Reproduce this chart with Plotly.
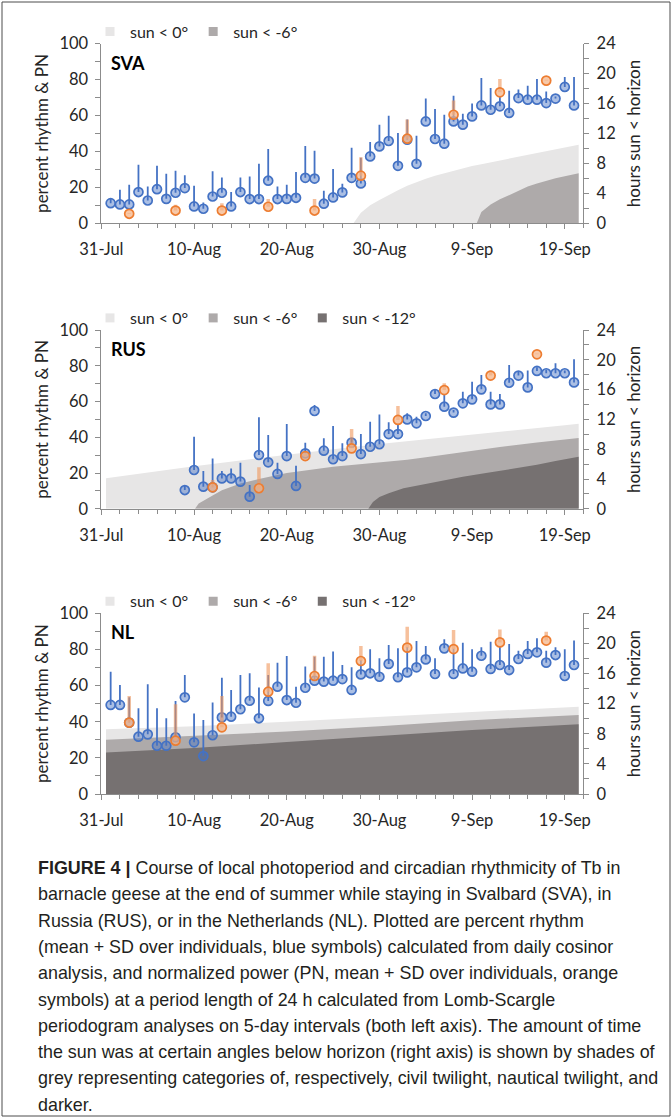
import pandas as pd
import plotly.graph_objects as go

# ---------------------------------------------------------------- data
START = pd.Timestamp("2018-07-31")
obs_dates = pd.date_range("2018-08-01", "2018-09-20", freq="D")   # daily cosinor
pn_dates_sva = ["2018-08-03", "2018-08-08", "2018-08-13", "2018-08-18", "2018-08-23",
                "2018-08-28", "2018-09-02", "2018-09-07", "2018-09-12", "2018-09-17"]
pn_dates_rus = ["2018-08-12", "2018-08-17", "2018-08-22", "2018-08-27",
                "2018-09-01", "2018-09-06", "2018-09-11", "2018-09-16"]
pn_dates_nl = pn_dates_sva

# percent rhythm (mean) and SD, Svalbard
sva_rhythm = [11.2, 10.5, 10.5, 17.4, 12.7, 19.0, 13.6, 17.0, 19.6, 9.4,
              8.1, 14.9, 17.0, 9.4, 17.4, 13.5, 13.5, 23.7, 13.5, 13.6,
              14.2, 25.3, 24.9, 10.9, 14.4, 17.2, 25.3, 22.2, 37.2, 42.8,
              45.8, 32.0, 46.5, 33.1, 56.7, 46.9, 44.3, 56.7, 54.9, 59.5,
              65.6, 63.2, 65.1, 61.4, 69.7, 68.8, 68.8, 66.9, 69.4, 75.9,
              65.6]
sva_rhythm_sd = [2.8, 8.2, 10.9, 15.2, 7.8, 13.0, 14.0, 12.2, 7.2, 11.5,
                 3.5, 14.0, 8.5, 8.0, 8.1, 12.6, 19.6, 17.6, 7.0, 7.8,
                 14.3, 17.7, 15.5, 7.2, 15.8, 4.8, 16.8, 14.3, 8.0, 12.1,
                 14.1, 18.2, 11.2, 15.6, 12.7, 16.7, 16.1, 14.3, 6.1, 7.1,
                 15.3, 12.1, 5.4, 12.4, 4.7, 7.8, 11.5, 6.5, 1.1, 5.5,
                 15.8]
sva_pn = [5.3, 7.1, 7.1, 9.2, 7.1, 26.5, 47.1, 60.4, 72.9, 79.4]
sva_pn_sd = [0.5, 3.2, 4.1, 4.3, 6.4, 10.2, 10.6, 8.0, 7.4, 0.5]

# Russia (loggers start on 9 Aug)
rus_rhythm = [None, None, None, None, None, None, None, None, 10.5, 21.7,
              12.4, 12.0, 17.0, 17.0, 15.2, 6.8, 30.1, 26.0, 19.5, 29.5,
              12.8, 31.0, 54.7, 32.5, 27.7, 29.5, 37.0, 30.6, 34.7, 36.1,
              41.8, 41.8, 50.0, 47.8, 51.9, 64.2, 57.1, 53.8, 59.0, 61.2,
              66.8, 58.4, 58.4, 70.5, 74.5, 67.9, 77.1, 75.8, 75.8, 75.8,
              70.7]
rus_rhythm_sd = [0, 0, 0, 0, 0, 0, 0, 0, 2.2, 18.6,
                 8.7, 16.2, 4.1, 5.6, 10.6, 6.5, 21.1, 15.3, 6.3, 17.9,
                 11.3, 6.0, 3.4, 6.9, 18.6, 7.1, 2.4, 11.2, 14.0, 16.7,
                 6.6, 5.1, 3.4, 3.7, 1.5, 2.6, 6.5, 1.5, 6.5, 9.9,
                 8.0, 7.1, 5.8, 9.9, 2.2, 9.4, 2.0, 2.0, 5.6, 1.5,
                 12.9]
rus_pn = [12.0, 11.5, 29.5, 33.8, 49.7, 66.4, 74.5, 86.4]
rus_pn_sd = [4.1, 11.7, 1.0, 10.8, 7.8, 3.8, 2.8, 0.5]

# Netherlands
nl_rhythm = [49.3, 49.3, 39.5, 31.7, 33.0, 26.7, 26.7, 31.4, 53.5, 28.6,
             21.0, 32.5, 42.4, 42.8, 46.9, 51.6, 41.9, 51.5, 59.4, 52.0,
             50.5, 58.8, 62.7, 62.2, 62.7, 63.6, 57.6, 66.2, 66.8, 64.9,
             72.0, 64.6, 67.3, 70.1, 74.5, 66.4, 80.6, 66.4, 69.5, 67.7,
             76.5, 69.2, 71.4, 68.6, 74.7, 77.5, 78.4, 72.7, 76.9, 65.3,
             71.4]
nl_rhythm_sd = [18.4, 11.0, 14.0, 15.7, 27.7, 20.7, 15.2, 20.1, 12.4, 16.0,
                20.0, 18.2, 22.0, 14.8, 19.0, 15.2, 17.1, 14.4, 13.3, 24.4,
                8.9, 11.7, 13.3, 13.8, 16.1, 7.8, 12.5, 8.0, 13.3, 10.2,
                10.5, 16.0, 14.0, 14.6, 7.4, 8.7, 5.0, 14.0, 14.2, 12.4,
                4.7, 15.1, 10.0, 14.4, 4.6, 7.2, 7.8, 6.6, 4.3, 14.8,
                13.5]
nl_pn = [39.5, 29.5, 36.9, 56.6, 65.3, 73.6, 81.0, 80.2, 83.9, 84.9]
nl_pn_sd = [14.7, 20.1, 17.3, 15.7, 11.2, 8.3, 11.6, 10.6, 7.2, 4.9]

# hours with the sun below a given angle (day offsets from 31 Jul)
sva_sun0_day = [0.5, 27.2, 28, 29, 30, 31, 32, 33, 34, 35, 36, 37, 38, 39, 40,
                41, 42, 43, 44, 45, 46, 47, 48, 49, 50, 51, 51.5]
sva_sun0_h = [0, 0, 1.4, 2.4, 3.1, 3.8, 4.4, 5.0, 5.5, 5.95, 6.35, 6.7, 7.0, 7.35, 7.65,
              7.9, 8.15, 8.4, 8.65, 8.9, 9.1, 9.35, 9.6, 9.85, 10.1, 10.35, 10.5]
sva_sun6_day = [0.5, 40.5, 41, 42, 43, 44, 45, 46, 47, 48, 49, 50, 51, 51.5]
sva_sun6_h = [0, 0, 1.5, 2.5, 3.2, 3.8, 4.4, 4.9, 5.3, 5.7, 6.0, 6.3, 6.6, 6.7]

rus_sun0_day = [0.5, 5, 10, 15, 20, 25, 30, 35, 40, 45, 50, 51.5]
rus_sun0_h = [4.1, 4.9, 5.7, 6.5, 7.3, 8.0, 8.7, 9.3, 9.9, 10.55, 11.2, 11.4]
rus_sun6_day = [0.5, 10.1, 10.5, 11, 12, 13, 14, 15, 17, 20, 25, 29, 33, 36, 40, 43, 47, 51.5]
rus_sun6_h = [0, 0, 0.7, 1.1, 1.8, 2.5, 3.0, 3.4, 4.0, 4.8, 5.65, 6.1, 6.6, 7.1, 7.8, 8.3, 8.9, 9.5]
rus_sun12_day = [0.5, 28.8, 29.3, 30, 31, 32.6, 34, 36, 39, 41.5, 44, 47, 49, 51.5]
rus_sun12_h = [0, 0, 0.9, 1.6, 2.1, 2.75, 3.1, 3.6, 4.3, 4.8, 5.3, 5.9, 6.4, 7.0]

nl_sun_day = [0.5, 10, 20, 30, 40, 51.5]
nl_sun0_h = [8.6, 9.0, 9.6, 10.3, 10.9, 11.6]
nl_sun6_h = [7.2, 7.7, 8.3, 9.0, 9.8, 10.5]
nl_sun12_h = [5.5, 6.1, 6.9, 7.7, 8.5, 9.25]

sun_labels = ["sun < 0°", "sun < -6°", "sun < -12°"]
panel_names = ["SVA", "RUS", "NL"]
x_range = ["2018-07-31", "2018-09-21"]

caption_lines = [
    "<b>FIGURE 4 |</b> Course of local photoperiod and circadian rhythmicity of Tb in",
    "barnacle geese at the end of summer while staying in Svalbard (SVA), in",
    "Russia (RUS), or in the Netherlands (NL). Plotted are percent rhythm",
    "(mean + SD over individuals, blue symbols) calculated from daily cosinor",
    "analysis, and normalized power (PN, mean + SD over individuals, orange",
    "symbols) at a period length of 24 h calculated from Lomb-Scargle",
    "periodogram analyses on 5-day intervals (both left axis). The amount of time",
    "the sun was at certain angles below horizon (right axis) is shown by shades of",
    "grey representing categories of, respectively, civil twilight, nautical twilight, and",
    "darker.",
]

# ---------------------------------------------------------------- styling
W, H = 672, 1118
FONT = "Lato, 'Open Sans', sans-serif"
CAPTION_FONT = "'Liberation Sans', Arial, sans-serif"
SUN_COLORS = ["#E7E6E6", "#AEAAAA", "#767171"]
BLUE = "#4472C4"
ORANGE = "#ED7D31"
AXIS = "#8C8C8C"
TXT = "#262626"
PLOT_X = (101.4, 583.3)
PLOT_Y = [(43.6, 223.3), (330.0, 508.8), (613.3, 794.0)]


def days_to_dates(days):
    return [START + pd.Timedelta(days=d) for d in days]


panels = [
    dict(rhythm=sva_rhythm, rhythm_sd=sva_rhythm_sd, pn=sva_pn, pn_sd=sva_pn_sd,
         pn_dates=pn_dates_sva,
         sun=[(sva_sun0_day, sva_sun0_h), (sva_sun6_day, sva_sun6_h)]),
    dict(rhythm=rus_rhythm, rhythm_sd=rus_rhythm_sd, pn=rus_pn, pn_sd=rus_pn_sd,
         pn_dates=pn_dates_rus,
         sun=[(rus_sun0_day, rus_sun0_h), (rus_sun6_day, rus_sun6_h),
              (rus_sun12_day, rus_sun12_h)]),
    dict(rhythm=nl_rhythm, rhythm_sd=nl_rhythm_sd, pn=nl_pn, pn_sd=nl_pn_sd,
         pn_dates=pn_dates_nl,
         sun=[(nl_sun_day, nl_sun0_h), (nl_sun_day, nl_sun6_h), (nl_sun_day, nl_sun12_h)]),
]

fig = go.Figure()
layout = {}
annotations = []

for i, p in enumerate(panels):
    k = i + 1
    xname = "x" if k == 1 else f"x{k}"
    yh_num, yp_num = 2 * k - 1, 2 * k
    yh = "y" if yh_num == 1 else f"y{yh_num}"
    yp = f"y{yp_num}"
    leg = "legend" if k == 1 else f"legend{k}"

    # shaded sun-below-horizon areas (hours, right axis)
    for j, (sd_days, hours) in enumerate(p["sun"]):
        fig.add_trace(go.Scatter(
            x=days_to_dates(sd_days), y=hours, mode="lines", fill="tozeroy",
            line=dict(width=0, color=SUN_COLORS[j]), fillcolor=SUN_COLORS[j],
            xaxis=xname, yaxis=yh, showlegend=False, hoverinfo="skip"))
        fig.add_trace(go.Scatter(
            x=[None], y=[None], mode="markers", name=sun_labels[j],
            marker=dict(symbol="square", size=9, color=SUN_COLORS[j]),
            xaxis=xname, yaxis=yh, legend=leg, showlegend=True))

    # percent rhythm (blue) and normalized power (orange), left axis
    fig.add_trace(go.Scatter(
        x=obs_dates, y=p["rhythm"], mode="markers",
        marker=dict(symbol="circle", size=9, color="rgba(68,114,196,0.45)",
                    line=dict(color=BLUE, width=1.7)),
        error_y=dict(type="data", symmetric=False, array=p["rhythm_sd"],
                     arrayminus=[0] * len(p["rhythm_sd"]), color=BLUE,
                     thickness=1.8, width=0),
        xaxis=xname, yaxis=yp, showlegend=False))
    fig.add_trace(go.Scatter(
        x=pd.to_datetime(p["pn_dates"]), y=p["pn"], mode="markers",
        marker=dict(symbol="circle", size=9, color="rgba(244,177,131,0.7)",
                    line=dict(color=ORANGE, width=1.7)),
        error_y=dict(type="data", symmetric=False, array=p["pn_sd"],
                     arrayminus=[0] * len(p["pn_sd"]), color="rgba(240,150,90,0.6)",
                     thickness=3.5, width=0),
        xaxis=xname, yaxis=yp, showlegend=False))

    top, bottom = PLOT_Y[i]
    ydom = [1 - bottom / H, 1 - top / H]
    common = dict(showline=True, linecolor=AXIS, linewidth=1, showgrid=False,
                  zeroline=False, ticks="outside", tickcolor=AXIS, ticklen=5,
                  automargin=False,
                  tickfont=dict(family=FONT, size=16.5, color=TXT))
    layout["xaxis" if k == 1 else f"xaxis{k}"] = dict(
        common, type="date", range=x_range, domain=[PLOT_X[0] / W, PLOT_X[1] / W],
        anchor=yh, tick0="2018-07-31", dtick=10 * 86400000, tickformat="%-d-%b",
        ticklabelstandoff=6,
        minor=dict(ticks="outside", ticklen=4, tickcolor=AXIS,
                   tick0="2018-07-31", dtick=2 * 86400000))
    layout["yaxis" if yh_num == 1 else f"yaxis{yh_num}"] = dict(
        common, range=[0, 24], domain=ydom, anchor=xname, side="right",
        dtick=4, tick0=0, ticklabelstandoff=4,
        minor=dict(ticks="outside", ticklen=5, tickcolor=AXIS, dtick=2),
        title=dict(text="hours sun < horizon", standoff=12,
                   font=dict(family=FONT, size=17, color=TXT)))
    layout[f"yaxis{yp_num}"] = dict(
        common, range=[0, 100], domain=ydom, anchor=xname, side="left",
        overlaying=yh, dtick=20, tick0=0, ticklabelstandoff=4,
        minor=dict(ticks="outside", ticklen=5, tickcolor=AXIS, dtick=10),
        title=dict(text="percent rhythm & PN", standoff=6,
                   font=dict(family=FONT, size=17, color=TXT)))
    layout[leg] = dict(
        orientation="h", x=90 / W, y=1 - (top - 12) / H, xanchor="left",
        yanchor="middle", bgcolor="rgba(0,0,0,0)", itemwidth=30,
        font=dict(family=FONT, size=16, color=TXT), tracegroupgap=0)

    annotations.append(dict(
        text=f"<b>{panel_names[i]}</b>", x=109 / W, y=1 - (top + 19) / H,
        xref="paper", yref="paper", xanchor="left", yanchor="middle",
        showarrow=False, font=dict(family=FONT, size=18, color="#000000")))

# figure caption
for n, line in enumerate(caption_lines):
    annotations.append(dict(
        text=line, x=36 / W, y=1 - (868 + n * 26.3) / H, xref="paper", yref="paper",
        xanchor="left", yanchor="middle", showarrow=False,
        font=dict(family=CAPTION_FONT, size=17.9, color="#231F20")))

fig.update_layout(
    width=W, height=H, margin=dict(l=0, r=0, t=0, b=0, pad=0, autoexpand=False),
    paper_bgcolor="white", plot_bgcolor="white",
    annotations=annotations,
    shapes=[dict(type="rect", xref="paper", yref="paper", x0=2 / W, x1=1 - 2 / W,
                 y0=2 / H, y1=1 - 2 / H, line=dict(color="#4d4d4d", width=1))],
    **layout)

fig.write_html("out.html")
